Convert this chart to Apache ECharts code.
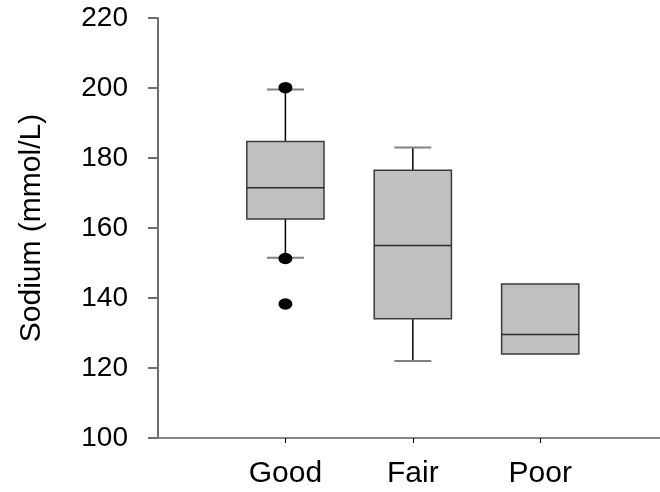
<!DOCTYPE html>
<html>
<head>
<meta charset="utf-8">
<script src="https://cdn.jsdelivr.net/npm/echarts@6/dist/echarts.min.js"></script>
<style>
html, body { margin: 0; padding: 0; background: #fff; }
#chart { width: 660px; height: 492px; }
</style>
</head>
<body>
<div id="chart"></div>
<script>
// groups on the x axis
var groups = ['Good', 'Fair', 'Poor'];
var groupPos = [1, 2, 3];

// box stats per group: [low whisker, q1, median, q3, high whisker]
var lowWhisker = [151.5, 122, 124];
var q1 = [162.6, 134.1, 124];
var median = [171.5, 155, 129.6];
var q3 = [184.7, 176.5, 144];
var highWhisker = [199.6, 183, 144];

// outlying points: [group position, value]
var outliers = [[1, 200.1], [1, 151.3], [1, 138.3]];

var yTicks = [100, 120, 140, 160, 180, 200, 220];

var fontFam = "'Liberation Sans', Arial, sans-serif";

var boxData = groupPos.map(function(p, i){
	return [p, lowWhisker[i], q1[i], median[i], q3[i], highWhisker[i]];
});

var chart = echarts.init(document.getElementById('chart'));

function renderBox(params, api){
	var x = api.value(0);
	var pLow = api.coord([x, api.value(1)]);
	var pQ1 = api.coord([x, api.value(2)]);
	var pMed = api.coord([x, api.value(3)]);
	var pQ3 = api.coord([x, api.value(4)]);
	var pHigh = api.coord([x, api.value(5)]);
	var unit = api.size([1, 0])[0];
	var half = unit * 0.303;
	var capHalf = unit * 0.145;
	var cx = pMed[0];
	var kids = [];
	var whisker = { stroke: '#000', lineWidth: 1.5 };
	var cap = { stroke: '#808080', lineWidth: 2 };

	if(api.value(5) > api.value(4)){
		kids.push({ type: 'line', shape: { x1: cx, y1: pQ3[1], x2: cx, y2: pHigh[1] }, style: whisker });
		kids.push({ type: 'line', shape: { x1: cx - capHalf, y1: pHigh[1], x2: cx + capHalf, y2: pHigh[1] }, style: cap });
	}
	if(api.value(1) < api.value(2)){
		kids.push({ type: 'line', shape: { x1: cx, y1: pQ1[1], x2: cx, y2: pLow[1] }, style: whisker });
		kids.push({ type: 'line', shape: { x1: cx - capHalf, y1: pLow[1], x2: cx + capHalf, y2: pLow[1] }, style: cap });
	}
	kids.push({
		type: 'rect',
		shape: { x: cx - half, y: pQ3[1], width: half * 2, height: pQ1[1] - pQ3[1] },
		style: { fill: '#c0c0c0', stroke: '#3a3a3a', lineWidth: 1.5 }
	});
	kids.push({
		type: 'line',
		shape: { x1: cx - half, y1: pMed[1], x2: cx + half, y2: pMed[1] },
		style: { stroke: '#2a2a2a', lineWidth: 1.5 }
	});
	return { type: 'group', children: kids };
}

var option = {
	backgroundColor: '#fff',
	animation: false,
	grid: {
		left: 158,
		right: 0,
		top: 18,
		bottom: 54
	},
	xAxis: {
		type: 'value',
		min: 0,
		max: 3.94,
		splitLine: { show: false },
		axisLine: { show: true, lineStyle: { color: '#858585', width: 2 } },
		axisTick: {
			show: true,
			length: 5,
			customValues: groupPos,
			lineStyle: { color: '#000', width: 1 }
		},
		axisLabel: {
			customValues: groupPos,
			margin: 21,
			fontSize: 30,
			fontFamily: fontFam,
			color: '#000',
			formatter: function(v){
				return groups[groupPos.indexOf(v)] || '';
			}
		}
	},
	yAxis: {
		type: 'value',
		min: yTicks[0],
		max: yTicks[yTicks.length - 1],
		interval: 20,
		name: 'Sodium (mmol/L)',
		nameLocation: 'middle',
		nameGap: 111,
		nameTextStyle: { fontSize: 30, fontFamily: fontFam, color: '#000' },
		splitLine: { show: false },
		axisLine: { show: true, lineStyle: { color: '#6e6e6e', width: 2 } },
		axisTick: { show: true, length: 10, lineStyle: { color: '#6e6e6e', width: 2 } },
		axisLabel: {
			margin: 30,
			fontSize: 28,
			fontFamily: fontFam,
			color: '#000'
		}
	},
	series: [{
		type: 'custom',
		renderItem: renderBox,
		encode: { x: 0, y: [1, 2, 3, 4, 5] },
		data: boxData,
		z: 2
	}, {
		type: 'scatter',
		data: outliers,
		symbol: 'circle',
		symbolSize: [14, 11.5],
		itemStyle: { color: '#000', opacity: 1 },
		z: 3
	}]
};

chart.setOption(option);

window.onresize = function(){
	chart.resize();
}
</script>
</body>
</html>
